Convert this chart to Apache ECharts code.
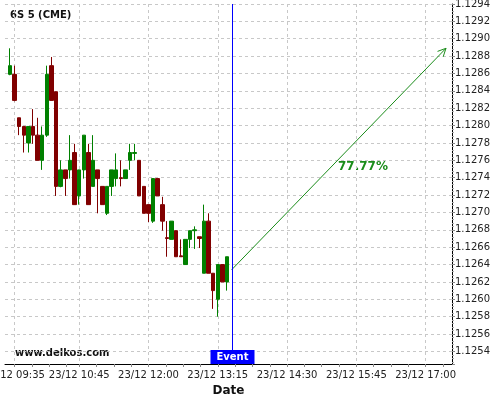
<!DOCTYPE html>
<html>
<head>
<meta charset="utf-8">
<script src="https://cdn.jsdelivr.net/npm/echarts@6/dist/echarts.min.js"></script>
<style>html,body{margin:0;padding:0;background:#fff}#c{width:500px;height:400px}</style>
</head>
<body>
<div id="c"></div>
<script>
const title = '6S 5 (CME)';
const dayLabel = '23/12';
const times = ['09:30','09:35','09:40','09:45','09:50','09:55','10:00','10:05','10:10','10:15','10:20','10:25',
  '10:30','10:35','10:40','10:45','10:50','10:55','11:00','11:05','11:10','11:15','11:20','11:25',
  '11:30','11:35','11:40','11:45','11:50','11:55','12:00','12:05','12:10','12:15','12:20','12:25',
  '12:30','12:35','12:40','12:45','12:50','12:55','13:00','13:05','13:10','13:15','13:20','13:25'];
const openV  = [1.12859,1.12859,1.12809,1.12799,1.12780,1.12799,1.12789,1.12760,1.12789,1.12869,1.12839,1.12730,
  1.12749,1.12749,1.12769,1.12719,1.12749,1.12769,1.12730,1.12749,1.12730,1.12699,1.12730,1.12739,
  1.12740,1.12739,1.12760,1.12768,1.12760,1.12730,1.12709,1.12690,1.12739,1.12709,1.12671,1.12669,
  1.12679,1.12650,1.12640,1.12669,1.12679,1.12672,1.12630,1.12690,1.12630,1.12600,1.12640,1.12620];
const closeV = [1.12869,1.12829,1.12799,1.12789,1.12799,1.12789,1.12760,1.12789,1.12859,1.12829,1.12730,1.12749,
  1.12739,1.12760,1.12709,1.12749,1.12789,1.12709,1.12760,1.12739,1.12709,1.12730,1.12749,1.12749,
  1.12739,1.12749,1.12769,1.12769,1.12719,1.12699,1.12699,1.12739,1.12719,1.12690,1.12670,1.12690,
  1.12649,1.12649,1.12669,1.12679,1.12680,1.12670,1.12690,1.12630,1.12610,1.12640,1.12620,1.12649];
const lowV   = [1.12858,1.12828,1.12789,1.12769,1.12769,1.12779,1.12760,1.12749,1.12787,1.12829,1.12719,1.12729,
  1.12719,1.12739,1.12709,1.12709,1.12739,1.12709,1.12730,1.12699,1.12709,1.12697,1.12719,1.12730,
  1.12730,1.12739,1.12749,1.12760,1.12719,1.12699,1.12689,1.12688,1.12719,1.12679,1.12649,1.12669,
  1.12649,1.12649,1.12640,1.12659,1.12658,1.12659,1.12630,1.12630,1.12589,1.12580,1.12620,1.12610];
const highV  = [1.12889,1.12869,1.12809,1.12799,1.12799,1.12819,1.12809,1.12799,1.12869,1.12879,1.12839,1.12760,
  1.12749,1.12789,1.12779,1.12749,1.12789,1.12779,1.12789,1.12749,1.12730,1.12730,1.12749,1.12768,
  1.12760,1.12749,1.12779,1.12779,1.12760,1.12730,1.12709,1.12739,1.12739,1.12718,1.12690,1.12690,
  1.12679,1.12669,1.12669,1.12679,1.12684,1.12672,1.12709,1.12699,1.12630,1.12640,1.12640,1.12649];
const xTickLabels = ['09:35','10:45','12:00','13:15','14:30','15:45','17:00'];
const eventTime = '13:30';
const eventLabel = 'Event';
const arrowFrom = ['13:30', 1.12634];
const arrowTo = ['17:22', 1.12889];
const probText = '77.77%';
const watermark = 'www.delkos.com';
const xAxisName = 'Date';
const yMin = 1.125255, yMax = 1.1294;
const xMinT = '09:24.7', xMaxT = '17:28.5';

function toMin(s){ const p = s.split(':'); return (+p[0])*60 + parseFloat(p[1]); }
function fmtT(v){ const h = Math.floor(v/60), m = Math.round(v - h*60); return dayLabel + ' ' + String(h).padStart(2,'0') + ':' + String(m).padStart(2,'0'); }

const FONT = 'DejaVu Sans';
const candles = times.map((t,i)=>[toMin(t), openV[i], closeV[i], lowV[i], highV[i]]);
const labelVals = xTickLabels.map(toMin);
const minorVals = [];
for (let i = 0; i < labelVals.length; i++) {
  const a = labelVals[i], b = i+1 < labelVals.length ? labelVals[i+1] : a + 75;
  const step = (i === 0) ? 18.75 : (b - a) / 4;
  for (let v = a; v < b - 0.01; v += step) minorVals.push(v);
}
const xMin = toMin(xMinT), xMax = toMin(xMaxT);

const chart = echarts.init(document.getElementById('c'), null, {renderer:'canvas'});
chart.setOption({
  animation: false,
  backgroundColor: '#fff',
  grid: {left: 5, right: 48, top: 4, bottom: 36, containLabel: false, outerBoundsMode: 'none'},
  xAxis: [{
    type: 'value', min: xMin, max: xMax, position: 'bottom',
    name: xAxisName, nameLocation: 'middle', nameGap: 17,
    nameTextStyle: {fontFamily: FONT, fontWeight: 'bold', fontSize: 12, color: '#111'},
    axisLine: {show: true, onZero: false, lineStyle: {color: '#000', width: 1}},
    axisTick: {show: true, length: 3, customValues: labelVals, lineStyle: {color: '#888'}},
    axisLabel: {customValues: labelVals, formatter: fmtT, fontFamily: FONT, fontSize: 10, color: '#222', margin: 6},
    splitLine: {show: true, lineStyle: {color: '#c8c8c8', type: [3,3], width: 1}}
  }, {
    type: 'value', min: xMin, max: xMax, position: 'bottom', gridIndex: 0,
    axisLine: {show: false}, axisLabel: {show: false}, splitLine: {show: false},
    axisTick: {show: true, length: 3, customValues: minorVals, lineStyle: {color: '#888'}}
  }],
  yAxis: {
    type: 'value', position: 'right', min: yMin, max: yMax, scale: true,
    splitNumber: 20, minInterval: 0.0002, maxInterval: 0.0002,
    axisLine: {show: true, onZero: false, lineStyle: {color: '#000', width: 1}},
    axisTick: {show: true, length: 3, lineStyle: {color: '#888'}},
    minorTick: {show: true, splitNumber: 5, length: 2, lineStyle: {color: '#aaa'}},
    axisLabel: {showMinLabel: false, formatter: v => v.toFixed(4), fontFamily: FONT, fontSize: 10, color: '#222', margin: 3},
    splitLine: {show: true, lineStyle: {color: '#c8c8c8', type: [3,3], width: 1}}
  },
  series: [{
    type: 'candlestick',
    xAxisIndex: 0,
    data: candles,
    dimensions: ['t','open','close','lowest','highest'],
    encode: {x: 't', y: ['open','close','lowest','highest']},
    barWidth: 4,
    itemStyle: {color: '#008000', color0: '#800000', borderColor: '#008000', borderColor0: '#800000', borderWidth: 1}
  }, {
    type: 'custom',
    xAxisIndex: 0,
    data: [[toMin(arrowFrom[0]), arrowFrom[1], toMin(arrowTo[0]), arrowTo[1]]],
    encode: {x: [0,2], y: [1,3]},
    renderItem: function(params, api){
      const p0 = api.coord([api.value(0), api.value(1)]);
      const p1 = api.coord([api.value(2), api.value(3)]);
      const ang = Math.atan2(p1[1]-p0[1], p1[0]-p0[0]);
      const L = 9, w = 0.45;
      const h1 = [p1[0] - L*Math.cos(ang - w), p1[1] - L*Math.sin(ang - w)];
      const h2 = [p1[0] - L*Math.cos(ang + w), p1[1] - L*Math.sin(ang + w)];
      const st = {stroke: '#1a8c1a', lineWidth: 1, fill: null};
      return {type: 'group', children: [
        {type: 'line', shape: {x1: p0[0], y1: p0[1], x2: p1[0], y2: p1[1]}, style: st},
        {type: 'polyline', shape: {points: [h1, p1, h2]}, style: st}
      ]};
    },
    silent: true, z: 5
  }, {
    type: 'custom',
    xAxisIndex: 0,
    data: [[toMin(eventTime), yMin, yMax]],
    encode: {x: 0, y: [1,2]},
    renderItem: function(params, api){
      const pb = api.coord([api.value(0), api.value(1)]);
      const pt = api.coord([api.value(0), api.value(2)]);
      const x = Math.round(pb[0]) + 0.5;
      const boxH = 14, boxW = 44;
      return {type: 'group', children: [
        {type: 'line', shape: {x1: x, y1: pt[1], x2: x, y2: pb[1] - boxH}, style: {stroke: '#0000ff', lineWidth: 1}},
        {type: 'rect', shape: {x: x - boxW/2, y: pb[1] - boxH, width: boxW, height: boxH}, style: {fill: '#0000ff'}},
        {type: 'text', style: {text: eventLabel, x: x, y: pb[1] - boxH/2, align: 'center', verticalAlign: 'middle',
          fill: '#fff', font: 'bold 10px "DejaVu Sans"'}}
      ]};
    },
    silent: true, z: 6
  }],
  graphic: [
    {type: 'text', left: 10, top: 10, style: {text: title, font: 'bold 10px "DejaVu Sans"', fill: '#111'}},
    {type: 'text', left: 15, top: 348, style: {text: watermark, font: 'bold 10px "DejaVu Sans"', fill: '#111'}},
    {type: 'text', left: 338, top: 161, style: {text: probText, font: 'bold 12px "DejaVu Sans"', fill: '#1a8c1a'}}
  ]
});
</script>
</body>
</html>
